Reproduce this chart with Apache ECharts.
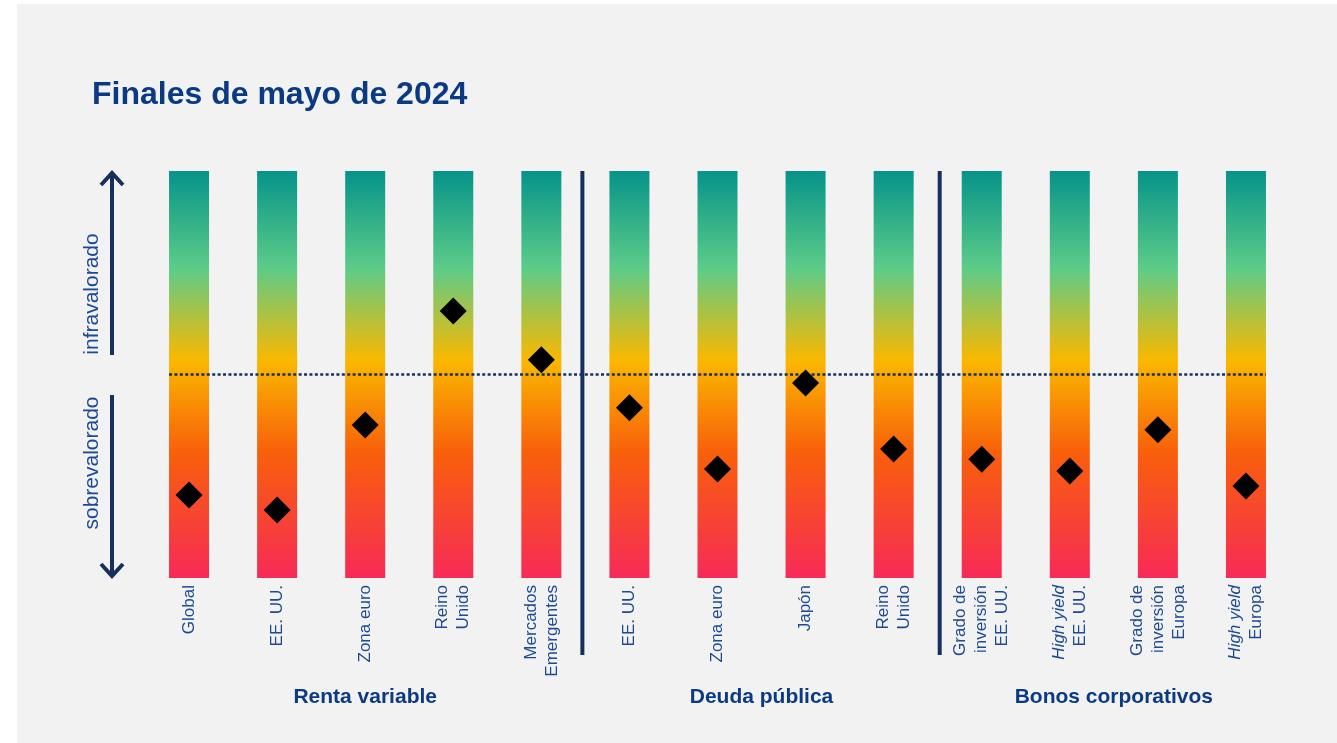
<!DOCTYPE html>
<html>
<head>
<meta charset="utf-8">
<script src="https://cdn.jsdelivr.net/npm/echarts@6/dist/echarts.min.js"></script>
<style>
html,body{margin:0;padding:0;background:#ffffff;}
#chart{width:1337px;height:743px;}
</style>
</head>
<body>
<div id="chart"></div>
<script>
// ---- data ----
var categories = ['Global', 'EE. UU.', 'Zona euro', 'Reino\nUnido', 'Mercados\nEmergentes',
  'EE. UU.', 'Zona euro', 'Japón', 'Reino\nUnido',
  'Grado de\ninversión\nEE. UU.', 'High yield\nEE. UU.', 'Grado de\ninversión\nEuropa', 'High yield\nEuropa'];
var valuation = [20.4, 16.7, 37.6, 65.6, 53.6, 41.8, 26.8, 47.9, 31.7, 29.2, 26.3, 36.4, 22.6];
var scaleTop = [100, 100, 100, 100, 100, 100, 100, 100, 100, 100, 100, 100, 100];
var neutralLevel = 50;
var groups = [
  { name: 'Renta variable', from: 0, to: 4 },
  { name: 'Deuda pública', from: 5, to: 8 },
  { name: 'Bonos corporativos', from: 9, to: 12 }
];
var titleText = 'Finales de mayo de 2024';
var upText = 'infravalorado';
var downText = 'sobrevalorado';

var NAVY = '#172f5e';
var BLUE = '#0a3a84';
var LBLUE = '#1d4a93';

var chart = echarts.init(document.getElementById('chart'), null, { renderer: 'canvas' });

var grad = new echarts.graphic.LinearGradient(0, 0, 0, 1, [
  { offset: 0, color: '#06938a' },
  { offset: 0.24, color: '#5dcc88' },
  { offset: 0.465, color: '#fab800' },
  { offset: 0.69, color: '#f8600a' },
  { offset: 1, color: '#f72a57' }
]);

var option = {
  backgroundColor: 'transparent',
  animation: false,
  grid: { left: 145, right: 47, top: 171, bottom: 165, containLabel: false },
  xAxis: {
    type: 'category',
    data: categories,
    axisLine: { show: false },
    axisTick: { show: false },
    axisLabel: {
      interval: 0,
      rotate: 90,
      margin: 7,
      fontFamily: 'Liberation Sans, Arial, sans-serif',
      fontSize: 17,
      lineHeight: 21,
      color: LBLUE,
      formatter: function (v) {
        return v.split('\n').map(function (line) {
          if (line === 'High yield') return '{it|High yield}';
          return '{n|' + line + '}';
        }).join('\n');
      },
      rich: {
        n: { fontFamily: 'Liberation Sans, Arial, sans-serif', fontSize: 17, lineHeight: 21, color: LBLUE },
        it: { fontFamily: 'Liberation Sans, Arial, sans-serif', fontSize: 17, lineHeight: 21, color: LBLUE, fontStyle: 'italic' }
      }
    }
  },
  yAxis: {
    type: 'value', min: 0, max: 100,
    show: false, splitLine: { show: false }
  },
  series: [
    {
      type: 'bar',
      data: scaleTop,
      barWidth: 40,
      itemStyle: { color: grad },
      silent: true,
      z: 2
    },
    {
      type: 'scatter',
      data: valuation,
      symbol: 'diamond',
      symbolSize: 27,
      itemStyle: { color: '#000000', opacity: 1 },
      z: 10
    }
  ]
};
chart.setOption(option);

function px(i) { return chart.convertToPixel({ xAxisIndex: 0 }, i); }
function py(v) { return chart.convertToPixel({ yAxisIndex: 0 }, v); }

var yTop = py(100), yBot = py(0), yMid = py(neutralLevel);
var half = 20;
var elements = [];

// panel background
elements.push({ type: 'rect', shape: { x: 17, y: 4, width: 1320, height: 739 }, style: { fill: '#f2f2f2' }, z: -10, silent: true });

// title
elements.push({
  type: 'text', left: 92, top: 79, z: 5,
  style: { text: titleText, fontFamily: 'Liberation Sans, Arial, sans-serif', fontWeight: 'bold', fontSize: 32, fill: BLUE }
});

// dotted neutral line
elements.push({
  type: 'line', z: 5,
  shape: { x1: px(0) - half, y1: yMid, x2: px(categories.length - 1) + half, y2: yMid },
  style: { stroke: NAVY, lineWidth: 2.5, lineDash: [3, 2.4] }
});

// separators
[[4, -3], [8, 2]].forEach(function (s) {
  var i = s[0];
  var x = (px(i) + px(i + 1)) / 2 + s[1];
  elements.push({
    type: 'line', z: 6,
    shape: { x1: x, y1: yTop, x2: x, y2: 655 },
    style: { stroke: NAVY, lineWidth: 4 }
  });
});

// group labels
groups.forEach(function (g) {
  var cx = (px(g.from) + px(g.to)) / 2;
  elements.push({
    type: 'text', x: cx, y: 697, z: 5,
    style: { text: g.name, align: 'center', verticalAlign: 'middle', fontFamily: 'Liberation Sans, Arial, sans-serif', fontWeight: 'bold', fontSize: 21, fill: BLUE }
  });
});

// arrows
var ax = 112;
elements.push({ type: 'line', z: 5, shape: { x1: ax, y1: yTop + 3, x2: ax, y2: 355 }, style: { stroke: NAVY, lineWidth: 4 } });
elements.push({ type: 'polyline', z: 5, shape: { points: [[ax - 11, yTop + 14], [ax, yTop + 2], [ax + 11, yTop + 14]] }, style: { stroke: NAVY, lineWidth: 4, fill: null, lineJoin: 'miter' } });
elements.push({ type: 'line', z: 5, shape: { x1: ax, y1: 395, x2: ax, y2: yBot - 2 }, style: { stroke: NAVY, lineWidth: 4 } });
elements.push({ type: 'polyline', z: 5, shape: { points: [[ax - 11, yBot - 14], [ax, yBot - 2], [ax + 11, yBot - 14]] }, style: { stroke: NAVY, lineWidth: 4, fill: null, lineJoin: 'miter' } });

// side labels
elements.push({
  type: 'text', x: 92, y: 294, rotation: Math.PI / 2, z: 5,
  style: { text: upText, align: 'center', verticalAlign: 'middle', fontFamily: 'Liberation Sans, Arial, sans-serif', fontSize: 21, fill: LBLUE }
});
elements.push({
  type: 'text', x: 92, y: 463, rotation: Math.PI / 2, z: 5,
  style: { text: downText, align: 'center', verticalAlign: 'middle', fontFamily: 'Liberation Sans, Arial, sans-serif', fontSize: 21, fill: LBLUE }
});

chart.setOption({ graphic: { elements: elements } });
</script>
</body>
</html>
